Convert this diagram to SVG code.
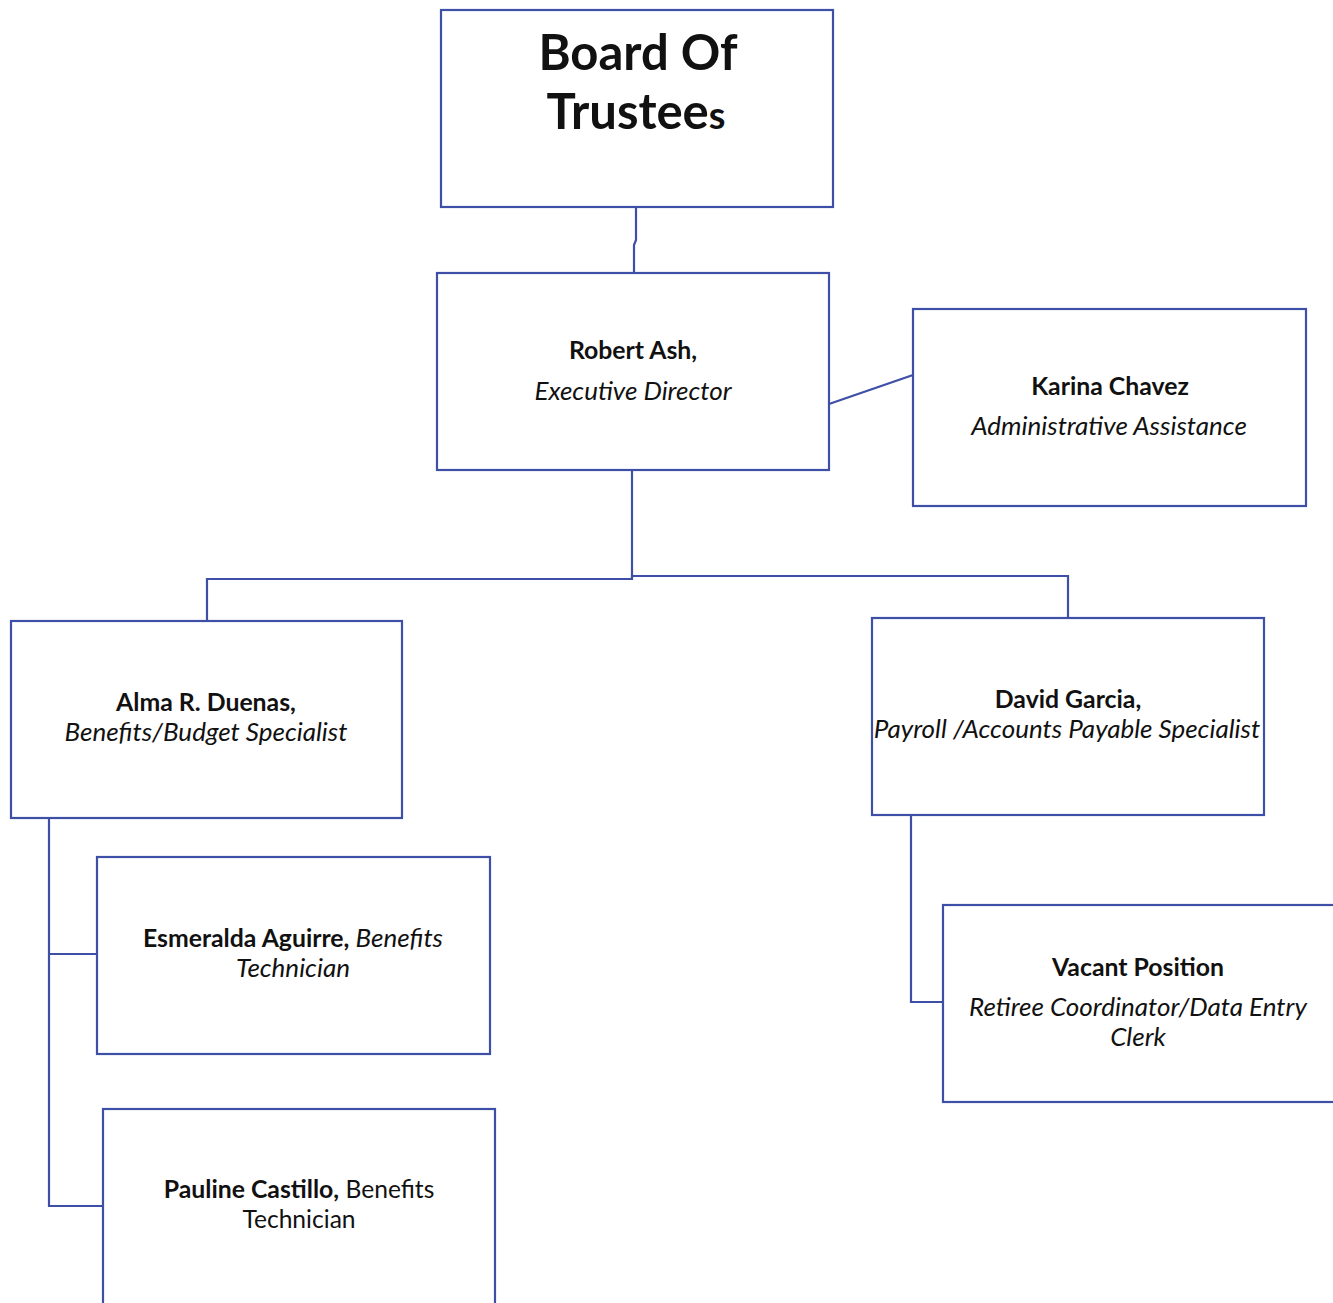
<svg xmlns="http://www.w3.org/2000/svg" width="1333" height="1303" viewBox="0 0 1333 1303">
<style>
.box{fill:#fff;stroke:#3d4fa6;stroke-width:2.2}
.ln{fill:none;stroke:#3d4fa6;stroke-width:2.2}
text{font-family:Lato,"Liberation Sans",sans-serif;fill:#111;text-anchor:middle;font-size:24.6px}
.b{font-weight:bold;font-size:24.8px}
.i{font-style:italic;font-size:26px}
.big{font-size:49px;font-weight:bold}
</style>
<rect width="1333" height="1303" fill="#fff"/>
<g id="connectors">
<polyline class="ln" points="636,207 636,240 634,245 634,273"/>
<line class="ln" x1="829" y1="404" x2="913" y2="375"/>
<polyline class="ln" points="632,470 632,578"/>
<polyline class="ln" points="207,621 207,579 632,579 632,576 1068,576 1068,618"/>
<polyline class="ln" points="49,818 49,1206 103,1206"/>
<line class="ln" x1="49" y1="954" x2="97" y2="954"/>
<polyline class="ln" points="911,815 911,1002 943,1002"/>
</g>
<g id="board">
<rect class="box" x="441" y="10" width="392" height="197"/>
<text class="big" x="638" y="70">Board Of</text>
<text class="big" x="636" y="129">Trustee<tspan font-size="38">s</tspan></text>
</g>
<g id="robert">
<rect class="box" x="437" y="273" width="392" height="197"/>
<text class="b" x="633" y="359">Robert Ash,</text>
<text class="i" x="633" y="400">Executive Director</text>
</g>
<g id="karina">
<rect class="box" x="913" y="309" width="393" height="197"/>
<text class="b" x="1110" y="395">Karina Chavez</text>
<text class="i" x="1109" y="435">Administrative Assistance</text>
</g>
<g id="alma">
<rect class="box" x="11" y="621" width="391" height="197"/>
<text class="b" x="206" y="711">Alma R. Duenas,</text>
<text class="i" x="206" y="741">Benefits/Budget Specialist</text>
</g>
<g id="david">
<rect class="box" x="872" y="618" width="392" height="197"/>
<text class="b" x="1068" y="708">David Garcia,</text>
<text class="i" x="1067" y="738">Payroll /Accounts Payable Specialist</text>
</g>
<g id="esmeralda">
<rect class="box" x="97" y="857" width="393" height="197"/>
<text x="293" y="947"><tspan class="b">Esmeralda Aguirre,</tspan><tspan class="i"> Benefits</tspan></text>
<text class="i" x="293" y="977">Technician</text>
</g>
<g id="pauline">
<rect class="box" x="103" y="1109" width="392" height="200"/>
<text x="299" y="1198"><tspan class="b">Pauline Castillo,</tspan> Benefits</text>
<text x="299" y="1228">Technician</text>
</g>
<g id="vacant">
<rect class="box" x="943" y="905" width="400" height="197"/>
<text class="b" x="1138" y="976">Vacant Position</text>
<text class="i" x="1138" y="1016">Retiree Coordinator/Data Entry</text>
<text class="i" x="1138" y="1046">Clerk</text>
</g>
</svg>
